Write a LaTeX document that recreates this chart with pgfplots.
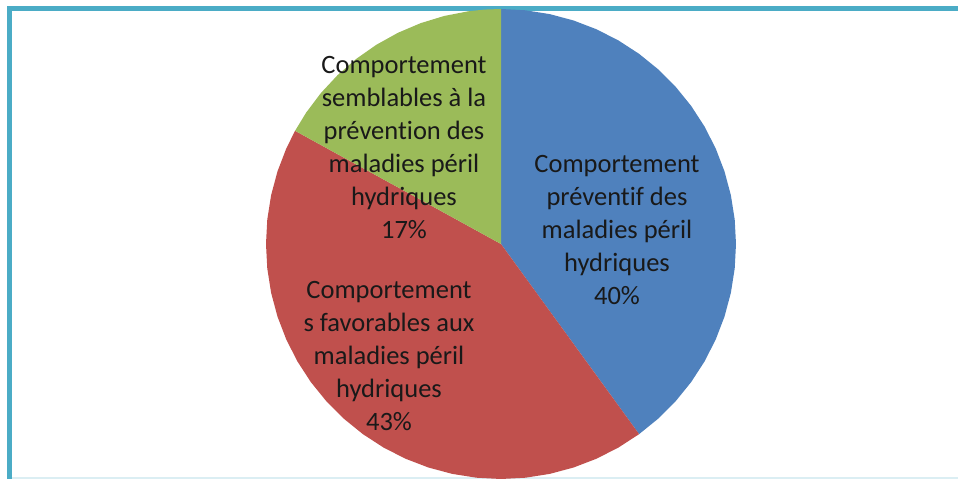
\documentclass[border=0pt]{standalone}
\usepackage{fontspec}
\setmainfont{Carlito}[Ligatures={NoCommon}]
\usepackage{pgfplots}
\pgfplotsset{compat=1.18}
\definecolor{cblue}{HTML}{4F81BD}
\definecolor{cred}{HTML}{C0504D}
\definecolor{cgreen}{HTML}{9BBB59}
\definecolor{cframe}{HTML}{4BACC6}
\definecolor{cbot}{HTML}{DBEEF3}
\begin{document}
\begin{tikzpicture}
\begin{axis}[x=1bp, y=1bp, xmin=-501, xmax=457, ymin=-235, ymax=244,
  hide axis, clip=false, anchor=south west, at={(0,0)}]
% frame
\draw[cframe, line width=5bp, line join=miter] (axis cs:-491.5,-235) -- (axis cs:-491.5,235.5) -- (axis cs:457,235.5);
\draw[cbot, line width=2bp] (axis cs:-489,-234) -- (axis cs:457,-234);
% Blue 40%: 90 -> -54
\addplot[fill=cblue, draw=none, data cs=polar] coordinates {(0,0)
 (90,235) (84,235) (78,235) (72,235) (66,235) (60,235) (54,235) (48,235) (42,235) (36,235) (30,235) (24,235) (18,235) (12,235) (6,235) (0,235) (-6,235) (-12,235) (-18,235) (-24,235) (-30,235) (-36,235) (-42,235) (-48,235) (-54,235)};
% Red 43%: -54 -> -208.8
\addplot[fill=cred, draw=none, data cs=polar] coordinates {(0,0)
 (-54,235) (-60,235) (-66,235) (-72,235) (-78,235) (-84,235) (-90,235) (-96,235) (-102,235) (-108,235) (-114,235) (-120,235) (-126,235) (-132,235) (-138,235) (-144,235) (-150,235) (-156,235) (-162,235) (-168,235) (-174,235) (-180,235) (-186,235) (-192,235) (-198,235) (-204,235) (-208.8,235)};
% Green 17%: 151.2 -> 90
\addplot[fill=cgreen, draw=none, data cs=polar] coordinates {(0,0)
 (151.2,235) (146,235) (140,235) (134,235) (128,235) (122,235) (116,235) (110,235) (104,235) (98,235) (94,235) (90,235)};
% labels
\tikzset{lbl/.style={align=center, text=black!90, font=\fontsize{26.5bp}{33bp}\selectfont, inner sep=0pt}}
\node[lbl] at (axis cs:116,14) {Comportement\\préventif des\\maladies péril\\hydriques\\40\%};
\node[lbl] at (axis cs:-112,-112) {Comportement\\s favorables aux\\maladies péril\\hydriques\\43\%};
\node[lbl] at (axis cs:-97,96.5) {Comportement\\semblables à la\\prévention des\\maladies péril\\hydriques\\17\%};
\end{axis}
\pgfresetboundingbox
\path[use as bounding box] (0,0) rectangle (958bp,479bp);
\end{tikzpicture}
\end{document}
